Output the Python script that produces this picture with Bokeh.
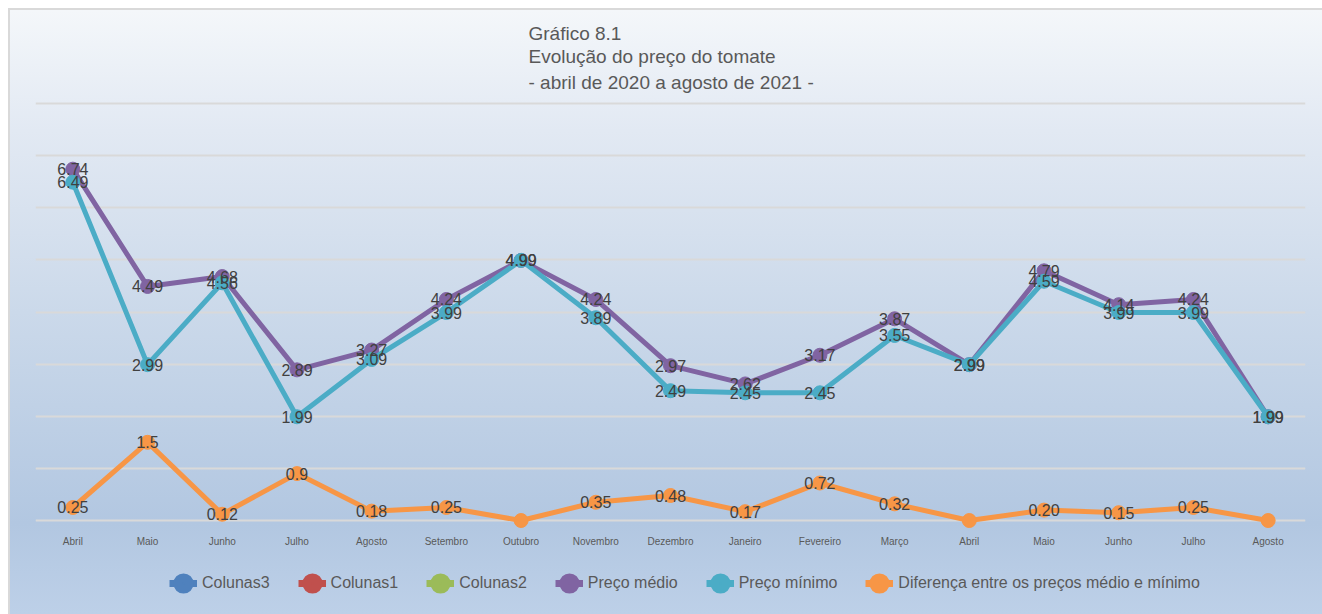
from bokeh.plotting import figure
from bokeh.layouts import column
from bokeh.models import ColumnDataSource, FixedTicker, Legend, LegendItem, Title
from bokeh.core.properties import value
from bokeh.embed import file_html
from bokeh.resources import INLINE

# ---------------- data ----------------
months = ["Abril", "Maio", "Junho", "Julho", "Agosto", "Setembro", "Outubro",
          "Novembro", "Dezembro", "Janeiro", "Fevereiro", "Março", "Abril",
          "Maio", "Junho", "Julho", "Agosto"]
preco_medio = [6.74, 4.49, 4.68, 2.89, 3.27, 4.24, 4.99, 4.24, 2.97, 2.62,
               3.17, 3.87, 2.99, 4.79, 4.14, 4.24, 1.99]
preco_minimo = [6.49, 2.99, 4.56, 1.99, 3.09, 3.99, 4.99, 3.89, 2.49, 2.45,
                2.45, 3.55, 2.99, 4.59, 3.99, 3.99, 1.99]
diferenca = [0.25, 1.5, 0.12, 0.9, 0.18, 0.25, 0.0, 0.35, 0.48, 0.17,
             0.72, 0.32, 0.0, 0.20, 0.15, 0.25, 0.0]
diferenca_labels = ["0.25", "1.5", "0.12", "0.9", "0.18", "0.25", "", "0.35",
                    "0.48", "0.17", "0.72", "0.32", "", "0.20", "0.15", "0.25", ""]
title_lines = ["Gráfico 8.1", "Evolução do preço do tomate",
               "- abril de 2020 a agosto de 2021 -"]
legend_labels = ["Colunas3", "Colunas1", "Colunas2", "Preço médio",
                 "Preço mínimo", "Diferença entre os preços médio e mínimo"]
legend_colors = ["#4f81bd", "#c0504d", "#9bbb59", "#8064a2", "#4bacc6", "#f79646"]

FONT = "Liberation Sans"
x = list(range(len(months)))

src = ColumnDataSource(dict(
    x=x,
    medio=preco_medio,
    minimo=preco_minimo,
    dif=diferenca,
    medio_lbl=[f"{v:.2f}" for v in preco_medio],
    minimo_lbl=[f"{v:.2f}" for v in preco_minimo],
    dif_lbl=diferenca_labels,
))

# ---------------- main chart ----------------
p = figure(width=1312, height=545, x_range=(-0.5, 16.5), y_range=(-0.153, 8.153),
           output_backend="svg", toolbar_location=None, y_axis_location=None,
           min_border_left=25, min_border_right=17,
           min_border_top=85, min_border_bottom=27)
p.title.text = ""
p.title.visible = False
p.border_fill_color = None
p.background_fill_color = None
p.outline_line_color = None

# grid
p.xgrid.visible = False
p.ygrid.ticker = FixedTicker(ticks=list(range(0, 9)))
p.ygrid.grid_line_color = "#d9d9d9"
p.ygrid.grid_line_width = 2

# x axis
p.xaxis.ticker = FixedTicker(ticks=x)
p.xaxis.major_label_overrides = {i: m for i, m in enumerate(months)}
p.xaxis.axis_line_color = None
p.xaxis.major_tick_line_color = None
p.xaxis.minor_tick_line_color = None
p.xaxis.major_tick_out = 0
p.xaxis.major_label_text_font = FONT
p.xaxis.major_label_text_font_size = "10px"
p.xaxis.major_label_text_color = "#595959"
p.xaxis.major_label_standoff = 7

# series
for col, color in [("medio", "#8064a2"), ("minimo", "#4bacc6"), ("dif", "#f79646")]:
    p.line("x", col, source=src, line_color=color, line_width=5)
    p.scatter("x", col, source=src, marker="circle", size=14,
              fill_color=color, line_color=color)

for lbl_col, ycol in [("medio_lbl", "medio"), ("minimo_lbl", "minimo"), ("dif_lbl", "dif")]:
    p.text("x", ycol, text=lbl_col, source=src, text_font=value(FONT),
           text_font_size="16px", text_color="#404040",
           text_align="center", text_baseline="middle")

# titles (added from the innermost outward)
standoffs = [0, 0, 6]
for txt, so in reversed(list(zip(title_lines, standoffs))):
    p.add_layout(Title(text=txt, align="left", offset=493, text_font=FONT,
                       text_font_size="19px", text_font_style="normal",
                       text_color="#595959", standoff=so), "above")

# ---------------- legend strip ----------------
lg = figure(width=1312, height=59, x_range=(0, 1), y_range=(0, 1),
            output_backend="svg", toolbar_location=None,
            x_axis_location=None, y_axis_location=None,
            min_border=0, min_border_left=0, min_border_right=0,
            min_border_top=0, min_border_bottom=0)
lg.title.visible = False
lg.border_fill_color = None
lg.background_fill_color = None
lg.outline_line_color = None
lg.grid.visible = False

items = []
for lbl, color in zip(legend_labels, legend_colors):
    proxy = ColumnDataSource(dict(x=[0, 1], y=[-100, -100]))  # outside range: legend-only series
    r1 = lg.line("x", "y", source=proxy, line_color=color, line_width=7)
    r2 = lg.scatter("x", "y", source=proxy, marker="circle", size=10,
                    fill_color=color, line_color=color, line_width=9)
    items.append(LegendItem(label=lbl, renderers=[r1, r2]))

legend = Legend(items=items, orientation="horizontal", location=(134, 17),
                background_fill_alpha=0, border_line_color=None,
                label_text_font=FONT, label_text_font_size="16px",
                label_text_color="#595959", glyph_width=28, glyph_height=28,
                label_standoff=5, spacing=28, padding=5, margin=0)
lg.add_layout(legend, "center")

layout = column(p, lg, spacing=0)
layout.styles = {
    "background": "linear-gradient(180deg, #f4f7fa 0%, #e2e9f3 20%, #cbd9ea 50%, #b2c7e1 85%, #bdd0e8 100%)",
    "border-top": "2px solid #d9d9d9",
    "border-left": "2px solid #d9d9d9",
    "margin-top": "8px",
    "margin-left": "8px",
}

open("out.html", "w").write(file_html(layout, INLINE))
